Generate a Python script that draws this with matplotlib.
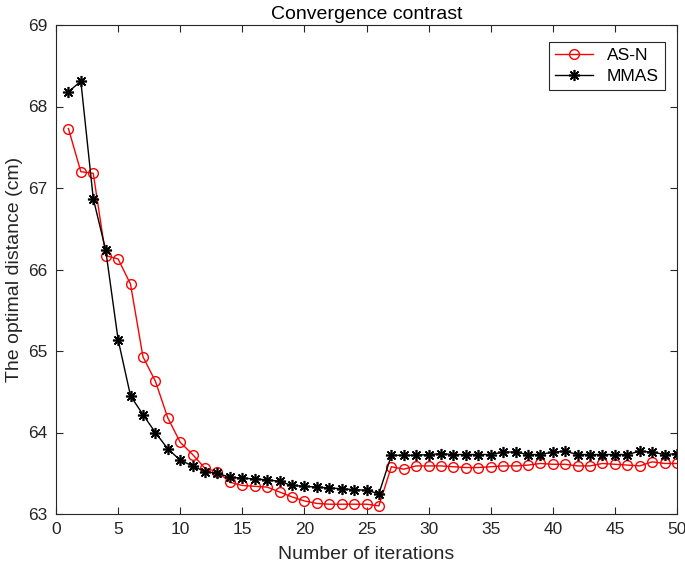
import numpy as np
import matplotlib
matplotlib.use('Agg')
import matplotlib.pyplot as plt

plt.rcParams['font.family'] = ['Liberation Sans', 'DejaVu Sans']

# iteration index
iterations = list(range(1, 51))

# AS-N optimal distance per iteration
as_n = [67.73, 67.20, 67.18, 66.17, 66.13, 65.82, 64.93, 64.63, 64.18, 63.88,
        63.73, 63.56, 63.52, 63.39, 63.35, 63.34, 63.33, 63.27, 63.21, 63.16,
        63.13, 63.12, 63.12, 63.12, 63.12, 63.10, 63.58, 63.55, 63.59, 63.59,
        63.59, 63.58, 63.57, 63.57, 63.58, 63.59, 63.59, 63.60, 63.62, 63.61,
        63.61, 63.59, 63.59, 63.62, 63.61, 63.60, 63.59, 63.64, 63.62, 63.62]

# MMAS optimal distance per iteration
mmas = [68.18, 68.31, 66.87, 66.24, 65.14, 64.45, 64.22, 64.00, 63.80, 63.66,
        63.59, 63.52, 63.50, 63.45, 63.44, 63.43, 63.42, 63.40, 63.35, 63.34,
        63.33, 63.32, 63.31, 63.30, 63.29, 63.25, 63.72, 63.72, 63.72, 63.73,
        63.74, 63.73, 63.73, 63.73, 63.73, 63.76, 63.76, 63.73, 63.73, 63.76,
        63.77, 63.73, 63.73, 63.73, 63.73, 63.73, 63.77, 63.76, 63.73, 63.74]

dark = '#262626'

fig = plt.figure(figsize=(6.85, 5.71), dpi=100)
ax = fig.add_axes([56 / 685, 1 - 514 / 571, 621 / 685, 489 / 571])

ax.plot(iterations, as_n, color='red', linewidth=1, marker='o', markersize=7,
        markerfacecolor='none', markeredgecolor='red', markeredgewidth=1, label='AS-N')
ax.plot(iterations, mmas, color='black', linewidth=1, marker=(8, 2, 0), markersize=8,
        markeredgewidth=1.2, label='MMAS')

ax.set_xlim(0, 50)
ax.set_ylim(63, 69)
ax.set_xticks(range(0, 51, 5))
ax.set_yticks(range(63, 70))
ax.tick_params(direction='in', top=True, right=True, labelsize=12.5, length=5,
               colors=dark, labelcolor=dark, pad=6)
for s in ax.spines.values():
    s.set_linewidth(0.8)
    s.set_color(dark)

ax.set_title('Convergence contrast', fontsize=14, pad=4)
ax.set_xlabel('Number of iterations', fontsize=14, labelpad=6, color=dark)
ax.set_ylabel('The optimal distance (cm)', fontsize=14, labelpad=4, color=dark)

leg = ax.legend(loc='upper right', bbox_to_anchor=(0.981, 0.965), borderaxespad=0,
                fontsize=12.5, fancybox=False, framealpha=1, edgecolor=dark,
                handlelength=2.2, labelspacing=0.3, borderpad=0.35)
leg.get_frame().set_linewidth(0.8)

fig.savefig('out.png', dpi=100)
